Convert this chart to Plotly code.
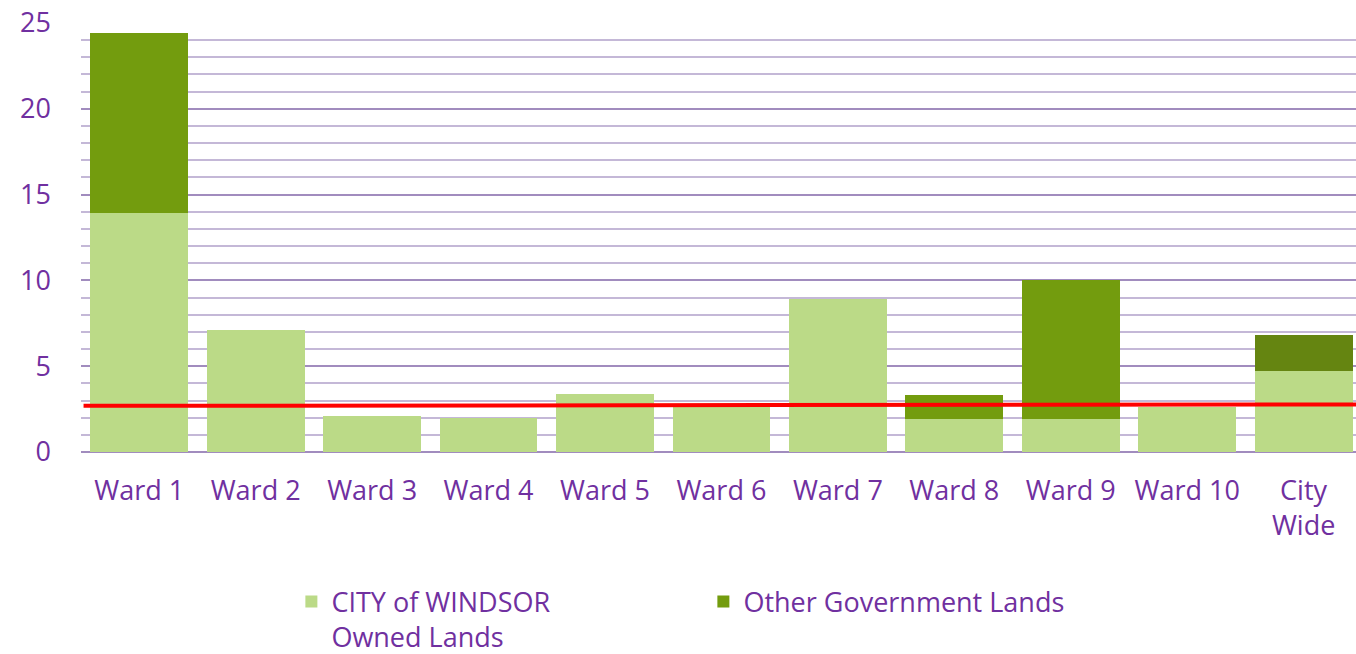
import plotly.graph_objects as go

categories = ["Ward 1", "Ward 2", "Ward 3", "Ward 4", "Ward 5", "Ward 6",
              "Ward 7", "Ward 8", "Ward 9", "Ward 10", "City<br>Wide"]
city_owned = [13.9, 7.1, 2.1, 2.0, 3.4, 2.6, 8.9, 1.9, 1.9, 2.6, 4.7]
other_gov = [10.5, 0, 0, 0, 0, 0, 0, 1.4, 8.1, 0, 2.1]
reference_line = [2.69, 2.77]  # value at left edge, value at right edge

PURPLE = "#7030A0"
LIGHT = "#BBDA87"
DARK = "#739C0E"
DARK_CW = "#658511"
FONT = "Open Sans"
FS = 27

other_colors = [DARK] * (len(categories) - 1) + [DARK_CW]

fig = go.Figure()
fig.add_trace(go.Bar(x=categories, y=city_owned, name="CITY of WINDSOR<br>Owned Lands",
                     marker=dict(color=LIGHT, line=dict(width=0))))
fig.add_trace(go.Bar(x=categories, y=other_gov, name="Other Government Lands",
                     marker=dict(color=other_colors, line=dict(width=0))))

fig.add_shape(type="line", xref="paper", yref="y", x0=0.002, x1=1,
              y0=reference_line[0], y1=reference_line[1],
              line=dict(color="#FF0000", width=4), layer="above")

fig.update_layout(
    width=1356, height=654,
    barmode="stack", bargap=0.16,
    plot_bgcolor="white", paper_bgcolor="white",
    margin=dict(l=81, r=0, t=23, b=202, autoexpand=False),
    font=dict(family=FONT, color=PURPLE, size=FS),
    showlegend=True,
    legend=dict(orientation="h", x=0.165, xanchor="left",
                yref="container", y=0.117, yanchor="top",
                font=dict(family=FONT, size=FS, color=PURPLE),
                entrywidth=367, entrywidthmode="pixels", traceorder="normal",
                valign="top"),
    xaxis=dict(range=[-0.5, 10.45], showgrid=False, showline=False, ticks="",
               tickfont=dict(family=FONT, size=FS, color=PURPLE),
               ticklabelstandoff=20, automargin=False),
    yaxis=dict(range=[0, 25], dtick=5, tick0=0, showgrid=True,
               gridcolor="#A18CBE", gridwidth=2,
               zeroline=True, zerolinecolor="#A18CBE", zerolinewidth=2,
               minor=dict(dtick=1, showgrid=True, gridcolor="#C4B8D7", gridwidth=2),
               showline=False, ticks="",
               tickfont=dict(family=FONT, size=FS, color=PURPLE),
               ticklabelstandoff=29, ticklabeloverflow="allow", automargin=False),
)

fig.write_html("out.html", config={"displayModeBar": False},
               post_script="document.body.style.margin='0';document.body.style.overflow='hidden';")
